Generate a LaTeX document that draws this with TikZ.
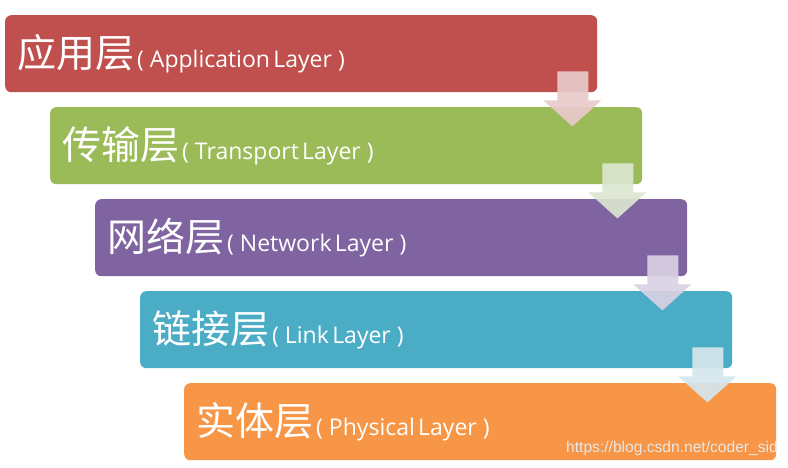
\documentclass[tikz,border=0pt]{standalone}
\usepackage{fontspec}
\setmainfont{Noto Sans CJK SC}
\newfontfamily\latfont[WordSpace=1.7]{Open Sans}
\newfontfamily\urlfont{Liberation Sans}
\usetikzlibrary{calc}
\definecolor{cred}{HTML}{C0504D}
\definecolor{cgreen}{HTML}{9BBB59}
\definecolor{cpurple}{HTML}{8064A2}
\definecolor{cteal}{HTML}{4BACC6}
\definecolor{corange}{HTML}{F79646}
\definecolor{ared}{HTML}{E9CACA}
\definecolor{agreen}{HTML}{DCE6D0}
\definecolor{apurple}{HTML}{D9D1E3}
\definecolor{ateal}{HTML}{D5E6EE}
\newcommand\cnbig{\fontsize{39}{42}\selectfont}
\newcommand\ensmall{\latfont\fontsize{23}{26}\selectfont}
\newcommand\lbl[2]{{\cnbig #1}\hspace{3pt}{\ensmall(\hspace{6pt}#2\hspace{6pt})}}
\newcommand\blockarrow[2]{%
  \fill[#2,opacity=0.92]
    ($(#1.south east)+(-40,-21)$) -- ($(#1.south east)+(-9,-21)$) --
    ($(#1.south east)+(-9,8)$) -- ($(#1.south east)+(4,8)$) --
    ($(#1.south east)+(-25,34)$) -- ($(#1.south east)+(-54,8)$) --
    ($(#1.south east)+(-40,8)$) -- cycle;}
\begin{document}
\begin{tikzpicture}[x=1pt,y=-1pt,
  layerbox/.style={rounded corners=6pt, text=white, anchor=north west,
    minimum width=591pt, minimum height=77pt, text width=568pt,
    inner xsep=12pt, inner ysep=0pt, align=left},
  wmark/.style={text=white!82!gray, anchor=base west, inner sep=0pt}]
\useasboundingbox (0,0) rectangle (788,467);
\clip (0,0) rectangle (788,467);
\node[layerbox, fill=cred] (l1) at (5,15) {\lbl{应用层}{Application Layer}};
\node[layerbox, fill=cgreen] (l2) at (50,107) {\lbl{传输层}{Transport Layer}};
\node[layerbox, fill=cpurple] (l3) at (95,199) {\lbl{网络层}{Network Layer}};
\node[layerbox, fill=cteal] (l4) at (140,291) {\lbl{链接层}{Link Layer}};
\node[layerbox, fill=corange] (l5) at (184,383) {\lbl{实体层}{Physical Layer}};
\blockarrow{l1}{ared}
\blockarrow{l2}{agreen}
\blockarrow{l3}{apurple}
\blockarrow{l4}{ateal}
\node[wmark] (wm) at (566,452) {\urlfont\fontsize{15.6}{19}\selectfont https://blog.csdn.net/coder\_sid};
\end{tikzpicture}
\end{document}
